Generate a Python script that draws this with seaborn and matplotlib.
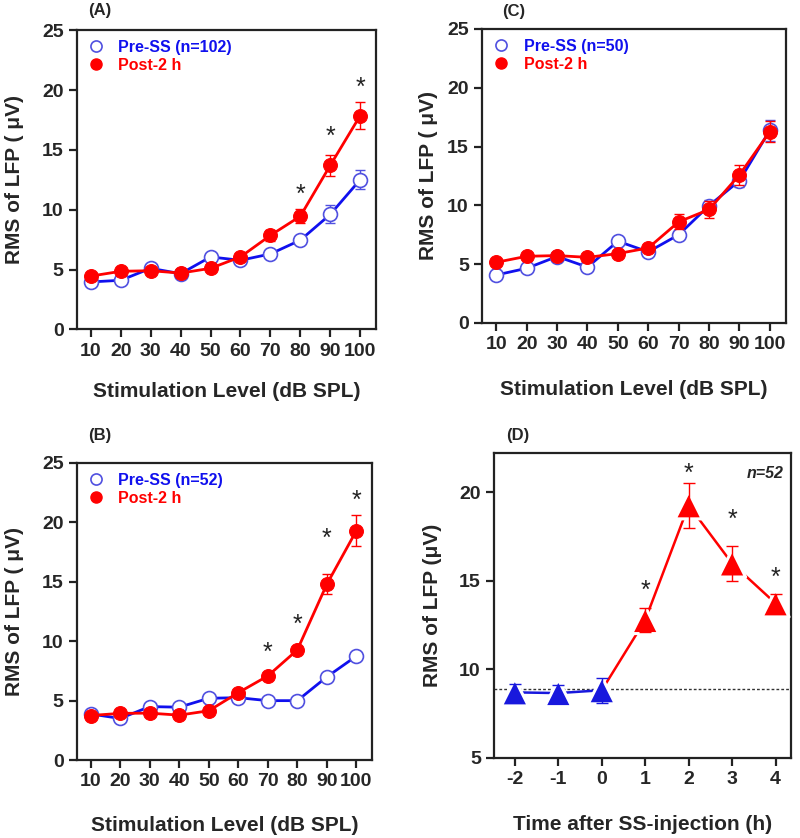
import pandas as pd
import matplotlib
matplotlib.use("Agg")
import matplotlib.pyplot as plt
import seaborn as sns
from matplotlib.lines import Line2D

# stimulation levels (dB SPL)
levels = [10, 20, 30, 40, 50, 60, 70, 80, 90, 100]

# panel A (n=102)
a_pre = [3.96, 4.1, 5.1, 4.65, 6.05, 5.77, 6.3, 7.45, 9.6, 12.5]
a_pre_err = [0.25, 0.25, 0.25, 0.25, 0.3, 0.3, 0.3, 0.35, 0.75, 0.8]
a_post = [4.45, 4.85, 4.9, 4.7, 5.1, 6.05, 7.85, 9.45, 13.7, 17.85]
a_post_err = [0.3, 0.3, 0.3, 0.3, 0.3, 0.35, 0.45, 0.6, 0.9, 1.15]
a_star_x = [80, 90, 100]
a_star_y = [11.2, 16.1, 20.2]

# panel B (n=52)
b_pre = [3.88, 3.5, 4.5, 4.45, 5.2, 5.25, 5.0, 5.0, 7.0, 8.75]
b_pre_err = [0.2, 0.2, 0.2, 0.2, 0.2, 0.2, 0.2, 0.2, 0.3, 0.35]
b_post = [3.75, 3.93, 3.95, 3.78, 4.15, 5.67, 7.08, 9.27, 14.8, 19.3]
b_post_err = [0.25, 0.25, 0.25, 0.25, 0.25, 0.3, 0.35, 0.35, 0.85, 1.3]
b_star_x = [70, 80, 90, 100]
b_star_y = [9.0, 11.4, 18.6, 21.8]

# panel C (n=50)
c_pre = [4.08, 4.65, 5.65, 4.75, 6.95, 6.05, 7.5, 9.98, 12.1, 16.4]
c_pre_err = [0.25, 0.25, 0.25, 0.25, 0.3, 0.3, 0.4, 0.45, 0.5, 0.9]
c_post = [5.16, 5.67, 5.73, 5.58, 5.9, 6.38, 8.6, 9.65, 12.6, 16.27]
c_post_err = [0.3, 0.3, 0.3, 0.3, 0.3, 0.3, 0.65, 0.75, 0.85, 0.9]

# panel D (time course, n=52)
hours = [-2, -1, 0, 1, 2, 3, 4]
hour_labels = ["-2", "-1", "0", "1", "2", "3", "4"]
d_rms = [8.7, 8.66, 8.82, 12.78, 19.25, 15.97, 13.72]
d_err = [0.5, 0.48, 0.7, 0.68, 1.28, 0.98, 0.55]
d_base_hours = [-2, -1, 0]
d_star_x = [1, 2, 3, 4]
d_star_y = [14.45, 21.05, 18.45, 15.15]
baseline = 8.88

BLUE = "#1010ee"
BLUE_EDGE = "#5050e0"
RED = "#ff0000"

sns.set_style("ticks")
plt.rcParams["font.family"] = ["Liberation Sans", "DejaVu Sans"]
plt.rcParams["font.weight"] = "bold"
plt.rcParams["axes.labelweight"] = "bold"

fig = plt.figure(figsize=(8, 8.38), dpi=100)


def style_axes(ax):
    for s in ax.spines.values():
        s.set_visible(True)
        s.set_linewidth(1.6)
        s.set_color("#222222")
    ax.tick_params(axis="both", direction="out", length=6, width=1.6,
                   labelsize=14, color="#222222")
    for lab in ax.get_xticklabels() + ax.get_yticklabels():
        lab.set_fontweight("bold")


def level_panel(rect, pre, pre_err, post, post_err, n, tag, tag_xy, star_x=None, star_y=None):
    ax = fig.add_axes(rect)
    df = pd.DataFrame({"level": levels, "pre": pre, "post": post})
    ax.errorbar(levels, pre, yerr=pre_err, fmt="none", ecolor=BLUE_EDGE,
                elinewidth=1, capsize=3.5, capthick=1, zorder=2)
    sns.lineplot(data=df, x="level", y="pre", ax=ax, color=BLUE, lw=2,
                 marker="o", markersize=10, markerfacecolor="white",
                 markeredgecolor=BLUE_EDGE, markeredgewidth=1.2, zorder=3)
    ax.errorbar(levels, post, yerr=post_err, fmt="none", ecolor=RED,
                elinewidth=1, capsize=3.5, capthick=1, zorder=4)
    sns.lineplot(data=df, x="level", y="post", ax=ax, color=RED, lw=2,
                 marker="o", markersize=10, markerfacecolor=RED,
                 markeredgecolor=RED, zorder=5)
    if star_x:
        for sx, sy in zip(star_x, star_y):
            ax.text(sx, sy, "*", ha="center", va="center", fontsize=18,
                    fontweight="normal", color="#222222")
    ax.set_xlim(5.3, 105.3)
    ax.set_ylim(0, 25)
    ax.set_xticks(levels)
    ax.set_yticks([0, 5, 10, 15, 20, 25])
    ax.set_xlabel("Stimulation Level (dB SPL)", fontsize=15, fontweight="bold")
    ax.set_ylabel("RMS of LFP ( \u03bcV)", fontsize=15, fontweight="bold")
    handles = [
        Line2D([], [], ls="none", marker="o", markersize=8, markerfacecolor="white",
               markeredgecolor=BLUE_EDGE, markeredgewidth=1.2, label=f"Pre-SS (n={n})"),
        Line2D([], [], ls="none", marker="o", markersize=8, markerfacecolor=RED,
               markeredgecolor=RED, label="Post-2 h"),
    ]
    leg = ax.legend(handles=handles, loc="upper left", frameon=False,
                    fontsize=11.5, handletextpad=0.8, borderaxespad=0.2,
                    labelspacing=0.2, handlelength=1.2)
    leg.get_texts()[0].set_color(BLUE)
    leg.get_texts()[1].set_color(RED)
    for t in leg.get_texts():
        t.set_fontweight("bold")
    ax.text(tag_xy[0], tag_xy[1], tag, transform=ax.transAxes, ha="center",
            va="center", fontsize=12, fontweight="bold")
    style_axes(ax)
    return ax


ax_a = level_panel([0.096, 0.607, 0.374, 0.357], a_pre, a_pre_err, a_post, a_post_err,
                   102, "(A)", (0.077, 1.067), a_star_x, a_star_y)
ax_a.yaxis.set_label_coords(-0.177, 0.5)
ax_a.xaxis.set_label_coords(0.5, -0.177)

ax_c = level_panel([0.6025, 0.6146, 0.38, 0.3508], c_pre, c_pre_err, c_post, c_post_err,
                   50, "(C)", (0.105, 1.058))
ax_c.yaxis.set_label_coords(-0.145, 0.5)
ax_c.xaxis.set_label_coords(0.5, -0.194)

ax_b = level_panel([0.096, 0.093, 0.369, 0.3545], b_pre, b_pre_err, b_post, b_post_err,
                   52, "(B)", (0.078, 1.094), b_star_x, b_star_y)
ax_b.yaxis.set_label_coords(-0.18, 0.5)
ax_b.xaxis.set_label_coords(0.5, -0.189)

# panel D: time course
ax_d = fig.add_axes([0.6175, 0.0955, 0.3715, 0.3639])
ddf = pd.DataFrame({"hour": hours, "rms": d_rms, "err": d_err})
base = ddf[ddf["hour"].isin(d_base_hours)]
post = ddf[ddf["hour"] >= max(d_base_hours)]
ax_d.axhline(baseline, color="#333333", lw=1, ls=(0, (2, 1.5)), zorder=1)
sns.lineplot(data=base, x="hour", y="rms", ax=ax_d, color="#1818dd", lw=1.8, zorder=2)
sns.lineplot(data=post, x="hour", y="rms", ax=ax_d, color=RED, lw=1.8, zorder=2)
colors = ["#1818dd" if h in d_base_hours else RED for h in hours]
sns.scatterplot(data=ddf, x="hour", y="rms", ax=ax_d, hue="hour",
                palette=dict(zip(hours, colors)), marker="^", s=380,
                edgecolor="white", linewidth=2.2, legend=False, zorder=4)
for h, v, e, c in zip(hours, d_rms, d_err, colors):
    ax_d.errorbar(h, v, yerr=e, fmt="none", ecolor=c, elinewidth=1,
                  capsize=4, capthick=1, zorder=5)
for sx, sy in zip(d_star_x, d_star_y):
    ax_d.text(sx, sy, "*", ha="center", va="center", fontsize=18,
              fontweight="normal", color="#222222")
ax_d.set_xlim(-2.48, 4.36)
ax_d.set_ylim(5, 22.2)
ax_d.set_xticks(hours)
ax_d.set_xticklabels(hour_labels)
ax_d.set_yticks([5, 10, 15, 20])
ax_d.set_xlabel("Time after SS-injection (h)", fontsize=15, fontweight="bold")
ax_d.set_ylabel("RMS of LFP (\u03bcV)", fontsize=15, fontweight="bold")
ax_d.yaxis.set_label_coords(-0.175, 0.5)
ax_d.xaxis.set_label_coords(0.5, -0.187)
ax_d.text(0.912, 0.934, "n=52", transform=ax_d.transAxes, ha="center", va="center",
          fontsize=11.5, fontweight="bold", fontstyle="italic")
ax_d.text(0.081, 1.059, "(D)", transform=ax_d.transAxes, ha="center", va="center",
          fontsize=12, fontweight="bold")
style_axes(ax_d)

plt.savefig("out.png", dpi=100)
plt.close()
